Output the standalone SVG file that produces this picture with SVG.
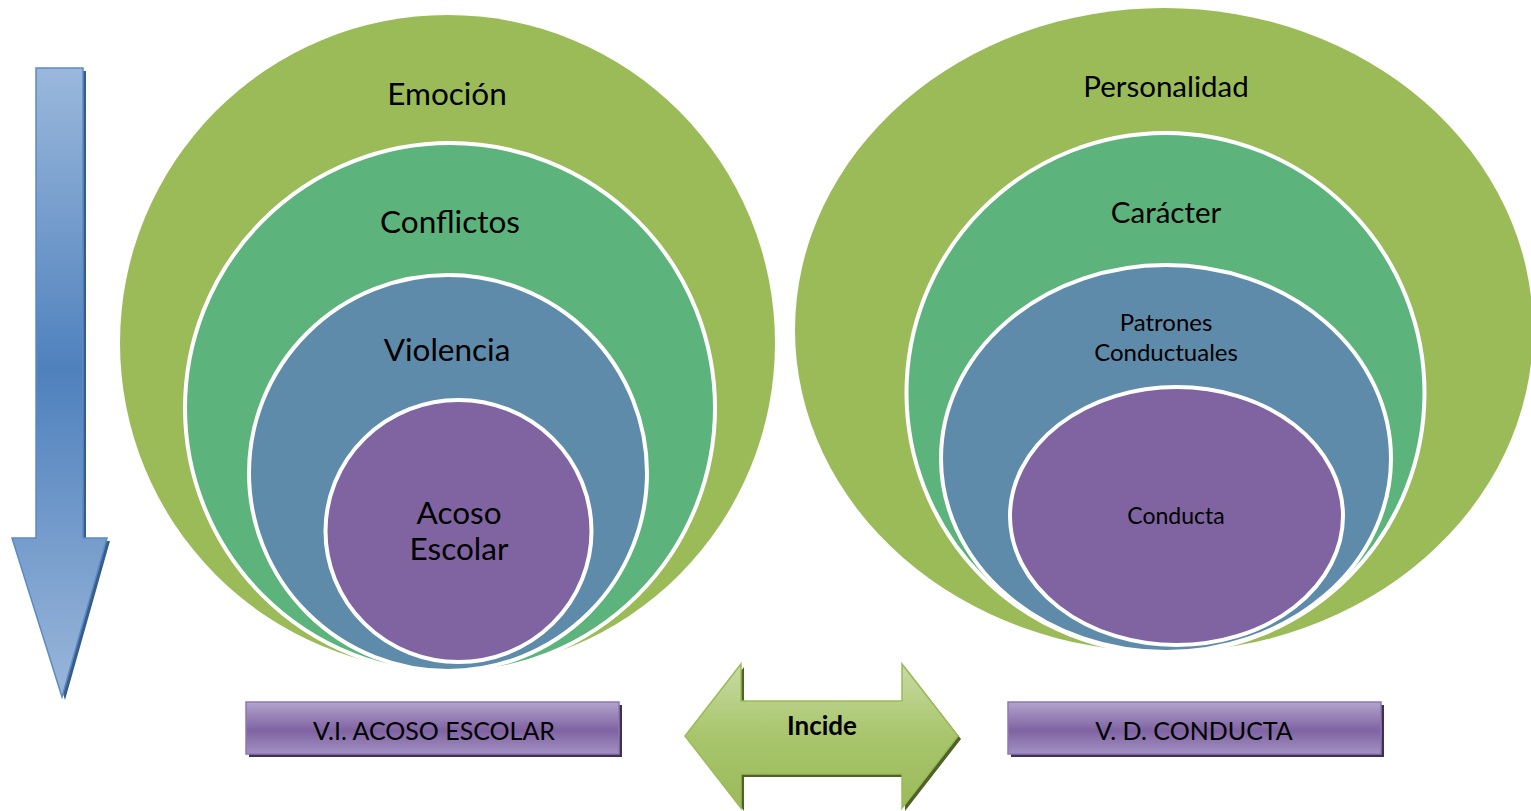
<svg xmlns="http://www.w3.org/2000/svg" width="1531" height="811" viewBox="0 0 1531 811">
  <defs>
    <linearGradient id="gBlue" x1="0" y1="0" x2="0" y2="1">
      <stop offset="0" stop-color="#9bb8dc"/>
      <stop offset="0.48" stop-color="#4f81bd"/>
      <stop offset="1" stop-color="#9ab6da"/>
    </linearGradient>
    <linearGradient id="gPurple" x1="0" y1="0" x2="0" y2="1">
      <stop offset="0" stop-color="#b3a3cd"/>
      <stop offset="0.55" stop-color="#7f63a2"/>
      <stop offset="1" stop-color="#a391c2"/>
    </linearGradient>
    <linearGradient id="gGreen" x1="0" y1="0" x2="0" y2="1">
      <stop offset="0" stop-color="#c8dba2"/>
      <stop offset="0.5" stop-color="#a8c56c"/>
      <stop offset="1" stop-color="#9bbb59"/>
    </linearGradient>
    <style>
      .ring { stroke: #ffffff; stroke-width: 4; }
      .c1 { fill: #9bbb59; stroke: none; }
      .c2 { fill: #5db37c; }
      .c3 { fill: #5f8bab; }
      .c4 { fill: #8064a2; }
      .lbl { font-family: Lato, "Liberation Sans", sans-serif; fill: #000; text-anchor: middle; }
      .big { font-size: 31.5px; }
      .bigr { font-size: 29.5px; }
      .mid { font-size: 24px; }
      .box { fill: url(#gPurple); stroke: #8f77b5; stroke-width: 1.5; }
      .boxsh { fill: #3f3151; }
      .boxtxt { font-size: 25px; }
    </style>
  </defs>
  <rect width="1531" height="811" fill="#ffffff"/>

  <g id="arrow-down">
    <path d="M39,71 H86 V541 H110 L65,700 L15,541 H39 Z" fill="#385d8a"/>
    <path d="M36,68 H83 V538 H107 L62,697 L12,538 H36 Z" fill="url(#gBlue)" stroke="#5b8ac6" stroke-width="1.5"/>
  </g>

  <g id="left-venn">
    <g id="emocion">
      <ellipse class="c1" cx="447.5" cy="343" rx="327.5" ry="328"/>
      <text class="lbl big" x="447" y="105">Emoción</text>
    </g>
    <g id="conflictos">
      <ellipse class="ring c2" cx="450" cy="408" rx="265" ry="265"/>
      <text class="lbl big" x="450" y="233">Conflictos</text>
    </g>
    <g id="violencia">
      <ellipse class="ring c3" cx="448" cy="473" rx="199" ry="198"/>
      <text class="lbl big" x="447" y="361">Violencia</text>
    </g>
    <g id="acoso">
      <ellipse class="ring c4" cx="458.5" cy="531" rx="133" ry="131"/>
      <text class="lbl big" x="459" y="524">Acoso</text>
      <text class="lbl big" x="459" y="560">Escolar</text>
    </g>
  </g>

  <g id="right-venn">
    <g id="personalidad">
      <ellipse class="c1" cx="1164" cy="330" rx="369" ry="322"/>
      <text class="lbl bigr" x="1166" y="97">Personalidad</text>
    </g>
    <g id="caracter">
      <ellipse class="ring c2" cx="1165.5" cy="393" rx="259" ry="260"/>
      <text class="lbl bigr" x="1166" y="223">Carácter</text>
    </g>
    <g id="patrones">
      <ellipse class="ring c3" cx="1166" cy="458.5" rx="225" ry="193.5"/>
      <text class="lbl mid" x="1166" y="331">Patrones</text>
      <text class="lbl mid" x="1166" y="361">Conductuales</text>
    </g>
    <g id="conducta">
      <ellipse class="ring c4" cx="1176.5" cy="516" rx="166.5" ry="129"/>
      <text class="lbl" x="1176" y="524" font-size="23">Conducta</text>
    </g>
  </g>

  <g id="box-vi">
    <rect class="boxsh" x="249" y="705" width="373" height="52"/>
    <rect class="box" x="246" y="702" width="373" height="52"/>
    <text class="lbl boxtxt" x="434" y="740">V.I. ACOSO ESCOLAR</text>
  </g>

  <g id="incide">
    <path d="M688,739 L744,667 V704 H905 V667 L961,739 L905,811 V777 H744 V811 Z" fill="#4f6228"/>
    <path d="M685,736 L741,664 V701 H902 V664 L958,736 L902,808 V774 H741 V808 Z" fill="url(#gGreen)" stroke="#9bbb59" stroke-width="1.5"/>
    <text class="lbl" x="822" y="735" font-size="26" font-weight="bold">Incide</text>
  </g>

  <g id="box-vd">
    <rect class="boxsh" x="1011" y="705" width="373" height="52"/>
    <rect class="box" x="1008" y="702" width="373" height="52"/>
    <text class="lbl boxtxt" x="1194" y="740">V. D. CONDUCTA</text>
  </g>

  <g id="connectors"/>
</svg>
